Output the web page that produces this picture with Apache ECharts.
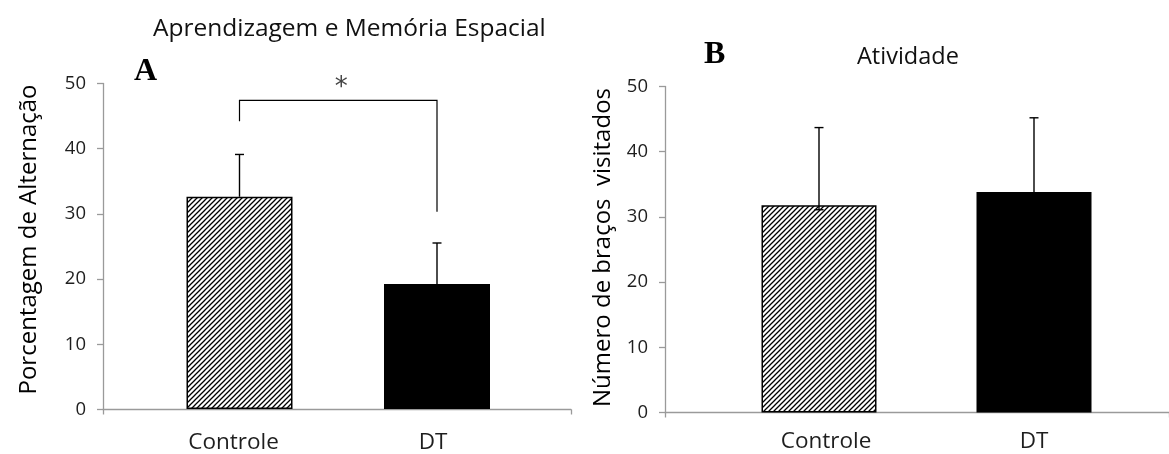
<!DOCTYPE html>
<html>
<head>
<meta charset="utf-8">
<script src="https://cdn.jsdelivr.net/npm/echarts@6/dist/echarts.min.js"></script>
<style>
  html, body { margin: 0; padding: 0; background: #fff; }
  #chart { width: 1169px; height: 454px; }
</style>
</head>
<body>
<div id="chart"></div>
<script>
// Groups compared in both panels
const categories = ['Controle', 'DT'];

// Panel A: spontaneous alternation (%)
const alternation = [32.6, 19.2];
const alternationErrHigh = [39.1, 25.5];
const alternationErrLow = [null, null];

// Panel A: significance bracket (left leg bottom, bar top, right leg bottom)
const bracketLevels = [44.2, 47.4, 30.3];
const bracketMark = '*';

// Panel B: number of arm entries
const visits = [31.8, 33.8];
const visitsErrHigh = [43.7, 45.2];
const visitsErrLow = [31.1, null];

// Y axis ticks
const yTicks = [0, 10, 20, 30, 40, 50];

const FONT = '"Open Sans"';
const TEXT = '#1e1e1e';
const AXIS = '#9a9a9a';

// Diagonal hatch fill for the control group
function hatchPattern() {
  const s = 5;
  const c = document.createElement('canvas');
  c.width = s; c.height = s;
  const g = c.getContext('2d');
  g.fillStyle = '#fff';
  g.fillRect(0, 0, s, s);
  g.strokeStyle = '#000';
  g.lineWidth = 1.3;
  g.beginPath();
  g.moveTo(-1, s + 1); g.lineTo(s + 1, -1);
  g.moveTo(-1, 1); g.lineTo(1, -1);
  g.moveTo(s - 1, s + 1); g.lineTo(s + 1, s - 1);
  g.stroke();
  return { image: c, repeat: 'repeat' };
}
const hatch = hatchPattern();

function barData(values) {
  return values.map((v, i) => ({
    value: v,
    itemStyle: {
      color: i === 0 ? hatch : '#000',
      borderColor: '#000',
      borderWidth: 1.5
    }
  }));
}

function errorData(values, high, low) {
  return values.map((v, i) => [i, low[i] == null ? v : low[i], high[i], low[i] == null ? 0 : 1]);
}

function renderError(params, api) {
  const x = api.value(0);
  const lo = api.coord([x, api.value(1)]);
  const hi = api.coord([x, api.value(2)]);
  const cap = 4.5;
  const style = { stroke: '#000', lineWidth: 1.4 };
  const children = [
    { type: 'line', shape: { x1: hi[0], y1: hi[1], x2: lo[0], y2: lo[1] }, style },
    { type: 'line', shape: { x1: hi[0] - cap, y1: hi[1], x2: hi[0] + cap, y2: hi[1] }, style }
  ];
  if (api.value(3)) {
    children.push({ type: 'line', shape: { x1: lo[0] - cap, y1: lo[1], x2: lo[0] + cap, y2: lo[1] }, style });
  }
  return { type: 'group', children };
}

function renderBracket(params, api) {
  const a = api.coord([0, api.value(0)]);
  const top = api.coord([0, api.value(1)]);
  const topR = api.coord([1, api.value(1)]);
  const b = api.coord([1, api.value(2)]);
  const style = { stroke: '#000', lineWidth: 1.2, fill: null };
  return {
    type: 'group',
    children: [
      { type: 'polyline', shape: { points: [a, top, topR, b] }, style },
      {
        type: 'text',
        style: {
          x: (top[0] + topR[0]) / 2 + 3, y: top[1] - 12,
          text: bracketMark, fill: '#444',
          font: '26px "DejaVu Sans"', align: 'center', verticalAlign: 'middle'
        }
      }
    ]
  };
}

const panels = [
  { frame: { left: 103, top: 83.5, width: 468, height: 326 },
    bars: { left: 140.75, top: 83.5, width: 395, height: 326 },
    name: 'Porcentagem de Alternação', nameGap: 62, namePad: [0, 0, 0, 14],
    labelMargin: 22, barWidth: 106, labelShift: [-6, -4] },
  { frame: { left: 665, top: 86.5, width: 540, height: 326 },
    bars: { left: 711.5, top: 86.5, width: 430, height: 326 },
    name: 'Número de braços  visitados', nameGap: 50, namePad: [0, 0, 0, 4],
    labelMargin: 18, barWidth: 115, labelShift: [7, 0] }
];

// category entries with a small horizontal nudge for each label
function categoryData(shift) {
  return categories.map((c, i) => ({
    value: c,
    textStyle: { padding: shift[i] < 0 ? [0, -2 * shift[i], 0, 0] : [0, 0, 0, 2 * shift[i]] }
  }));
}

const grid = [], xAxis = [], yAxis = [];
panels.forEach((p, k) => {
  grid.push(Object.assign({ containLabel: false }, p.frame));
  grid.push(Object.assign({ containLabel: false }, p.bars));
  // frame axes: visible axis lines, y ticks and labels
  xAxis.push({
    gridIndex: 2 * k, type: 'value', min: 0, max: 1, interval: 1,
    axisLine: { show: true, lineStyle: { color: AXIS, width: 1.3 } },
    axisTick: { show: true, length: 5, lineStyle: { color: AXIS, width: 1.3 } },
    axisLabel: { show: false }, splitLine: { show: false }
  });
  yAxis.push({
    gridIndex: 2 * k, type: 'value', min: yTicks[0], max: yTicks[yTicks.length - 1], interval: 10,
    axisLine: { show: true, lineStyle: { color: AXIS, width: 1.3 } },
    axisTick: { show: true, length: 6, lineStyle: { color: AXIS, width: 1.3 } },
    axisLabel: { margin: 17, color: TEXT, fontSize: 18.5, fontFamily: FONT },
    splitLine: { show: false },
    name: p.name, nameLocation: 'middle', nameRotate: 90, nameGap: p.nameGap,
    nameTextStyle: { color: '#000', fontSize: 24, fontFamily: FONT, padding: p.namePad }
  });
  // bar axes: category positions and group labels
  xAxis.push({
    gridIndex: 2 * k + 1, type: 'category', data: categoryData(p.labelShift),
    axisLine: { show: false }, axisTick: { show: false },
    axisLabel: { margin: p.labelMargin, color: TEXT, fontSize: 22.5, fontFamily: FONT }
  });
  yAxis.push({
    gridIndex: 2 * k + 1, type: 'value', min: 0, max: 50, interval: 10,
    show: false
  });
});

const option = {
  backgroundColor: '#fff',
  animation: false,
  title: [
    { text: 'Aprendizagem e Memória Espacial', left: 148, top: 12,
      textStyle: { fontFamily: FONT, fontSize: 24.5, fontWeight: 'normal', color: '#111' } },
    { text: 'A', left: 129, top: 51,
      textStyle: { fontFamily: 'Liberation Serif', fontSize: 32, fontWeight: 'bold', color: '#000' } },
    { text: 'B', left: 699, top: 34,
      textStyle: { fontFamily: 'Liberation Serif', fontSize: 32, fontWeight: 'bold', color: '#000' } },
    { text: 'Atividade', left: 852, top: 40,
      textStyle: { fontFamily: FONT, fontSize: 23.5, fontWeight: 'normal', color: '#111' } }
  ],
  grid, xAxis, yAxis,
  series: [
    { type: 'bar', xAxisIndex: 1, yAxisIndex: 1, barWidth: panels[0].barWidth, data: barData(alternation) },
    { type: 'custom', xAxisIndex: 1, yAxisIndex: 1, z: 5, renderItem: renderError,
      data: errorData(alternation, alternationErrHigh, alternationErrLow) },
    { type: 'custom', xAxisIndex: 1, yAxisIndex: 1, z: 5, renderItem: renderBracket,
      data: [bracketLevels] },
    { type: 'bar', xAxisIndex: 3, yAxisIndex: 3, barWidth: panels[1].barWidth, data: barData(visits) },
    { type: 'custom', xAxisIndex: 3, yAxisIndex: 3, z: 5, renderItem: renderError,
      data: errorData(visits, visitsErrHigh, visitsErrLow) }
  ]
};

const chart = echarts.init(document.getElementById('chart'), null, { renderer: 'canvas' });
chart.setOption(option);
</script>
</body>
</html>
